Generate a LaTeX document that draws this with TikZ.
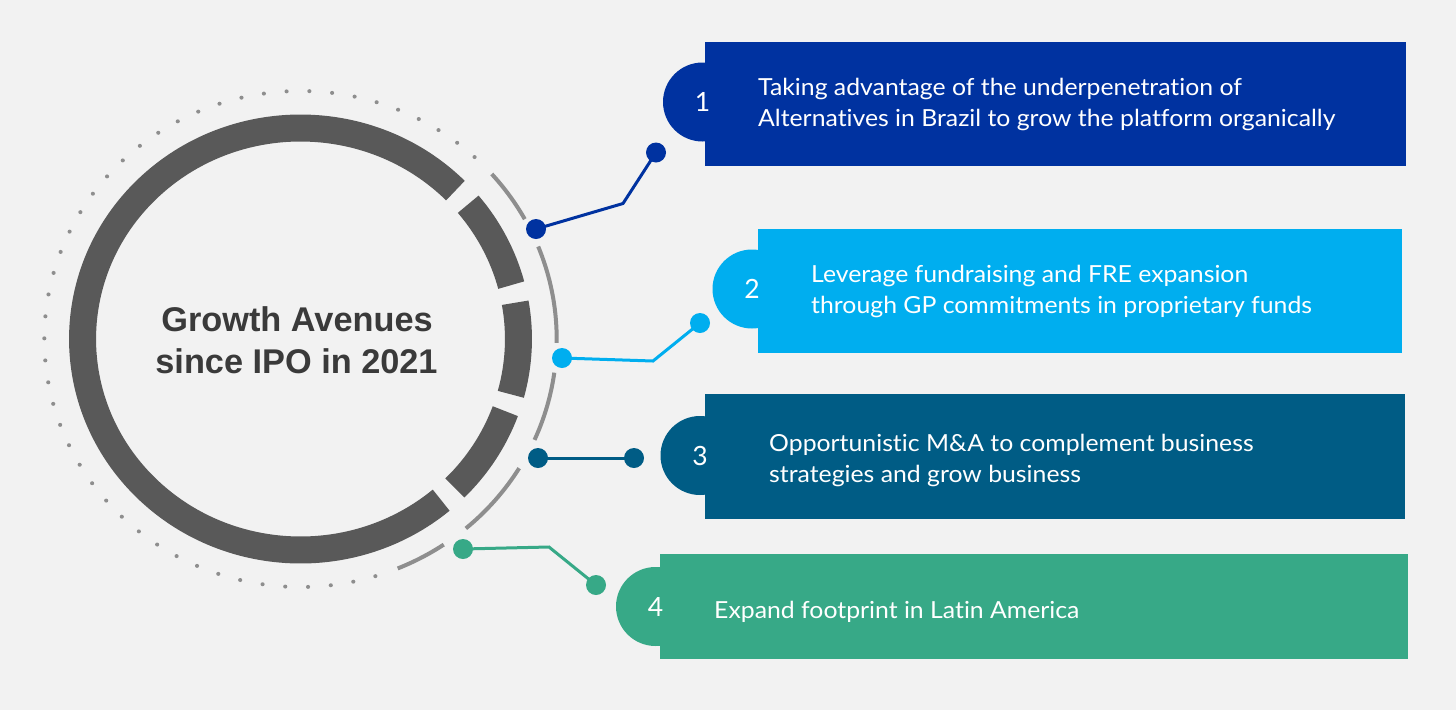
\documentclass[tikz,border=0pt]{standalone}
\usepackage{fontspec}
\setmainfont{Lato}[FakeStretch=1.055, Ligatures=NoCommon]
\newfontfamily\titlefont{Liberation Sans}
\newfontfamily\numfont{Lato}
\definecolor{bg}{HTML}{F2F2F2}
\definecolor{cone}{HTML}{0032A0}
\definecolor{ctwo}{HTML}{00AEEF}
\definecolor{cthree}{HTML}{005C85}
\definecolor{cfour}{HTML}{37A987}
\definecolor{ringc}{HTML}{595959}
\definecolor{thinc}{HTML}{8E8E8E}
\definecolor{titlec}{HTML}{3A3A3A}
\begin{document}
\begin{tikzpicture}[x=1pt,y=-1pt,
  boxrect/.style={rectangle, inner sep=0pt, outer sep=0pt, draw=none},
  numcirc/.style={circle, inner sep=0pt, outer sep=0pt, minimum size=79pt},
  numtext/.style={text=white, inner sep=0pt, font=\numfont\fontsize{26.5}{26.5}\selectfont},
  bodytext/.style={anchor=base west, text=white, inner sep=0pt, font=\fontsize{23.5}{28}\selectfont},
  titletext/.style={anchor=base, text=titlec, inner sep=0pt, font=\titlefont\bfseries\fontsize{34.3}{40}\selectfont},
  cdot/.style={circle, inner sep=0pt, outer sep=0pt, minimum size=20pt},
  conn/.style={line width=3pt},
  ringseg/.style={draw=ringc, line width=27pt},
  thinseg/.style={draw=thinc, line width=4pt}]
\useasboundingbox (0,0) rectangle (1456,710);
\fill[bg] (0,0) rectangle (1456,710);

% ring
\begin{scope}[shift={(300.5,339)}, yscale=-1, xscale=1.033]
  \draw[ringseg] (44.7:211) arc[start angle=44.7, end angle=310.2, radius=211];
  \draw[ringseg] (14.8:211) arc[start angle=14.8, end angle=39.7, radius=211];
  \draw[ringseg] (-15.2:211) arc[start angle=-15.2, end angle=9.9, radius=211];
  \draw[ringseg] (-44.9:211) arc[start angle=-44.9, end angle=-20, radius=211];
  \draw[thinseg] (28.9:248) arc[start angle=28.9, end angle=41.7, radius=248];
  \draw[thinseg] (-0.9:248) arc[start angle=-0.9, end angle=21.9, radius=248];
  \draw[thinseg] (-24:248) arc[start angle=-24, end angle=-7.8, radius=248];
  \draw[thinseg] (-49.8:248) arc[start angle=-49.8, end angle=-31.4, radius=248];
  \draw[thinseg] (-67.7:248) arc[start angle=-67.7, end angle=-56, radius=248];
  \foreach \i in {0,...,47}
    \fill[thinc] ({47.2+\i*5.102}:248) circle[radius=2];
\end{scope}

\node[titletext] (title1) at (297,331) {Growth Avenues};
\node[titletext] (title2) at (296.5,373.3) {since IPO in 2021};

% boxes
\node[numcirc, fill=cone] (n1) at (702.5,102) {};
\node[boxrect, fill=cone, minimum width=701pt, minimum height=124pt] (r1) at (1055,104) {};
\node[numcirc, fill=ctwo] (n2) at (752,289) {};
\node[boxrect, fill=ctwo, minimum width=644pt, minimum height=124pt] (r2) at (1080,290.5) {};
\node[numcirc, fill=cthree] (n3) at (700,455.5) {};
\node[boxrect, fill=cthree, minimum width=700pt, minimum height=125pt] (r3) at (1055,456.5) {};
\node[numcirc, fill=cfour] (n4) at (655.5,606.5) {};
\node[boxrect, fill=cfour, minimum width=748pt, minimum height=105pt] (r4) at (1034,606) {};

% numbers
\node[numtext] (m1) at (n1.center) {1};
\node[numtext] (m2) at (n2.center) {2};
\node[numtext] (m3) at (n3.center) {3};
\node[numtext] (m4) at (n4.center) {4};

% texts
\node[bodytext] (t1a) at (758,95.5) {Taking advantage of the underpenetration of};
\node[bodytext] (t1b) at (758,126.5) {Alternatives in Brazil to grow the platform organically};
\node[bodytext] (t2a) at (811,282) {Leverage fundraising and FRE expansion};
\node[bodytext] (t2b) at (811,313) {through GP commitments in proprietary funds};
\node[bodytext] (t3a) at (769,451.5) {Opportunistic M\&A to complement business};
\node[bodytext] (t3b) at (769,482) {strategies and grow business};
\node[bodytext] (t4a) at (714,618) {Expand footprint in Latin America};

% connectors
\coordinate (k1) at (623,203.5);
\coordinate (k2) at (653,361);
\coordinate (k4) at (549,547);
\node[cdot, fill=cone] (d1a) at (536,229) {};
\node[cdot, fill=cone] (d1b) at (656,152.5) {};
\draw[conn, cone] (d1a.center) -- (k1) -- (d1b.center);
\node[cdot, fill=ctwo] (d2a) at (562,358) {};
\node[cdot, fill=ctwo] (d2b) at (700,323) {};
\draw[conn, ctwo] (d2a.center) -- (k2) -- (d2b.center);
\node[cdot, fill=cthree] (d3a) at (538,458) {};
\node[cdot, fill=cthree] (d3b) at (634,458) {};
\draw[conn, cthree] (d3a.center) -- (d3b.center);
\node[cdot, fill=cfour] (d4a) at (463,549) {};
\node[cdot, fill=cfour] (d4b) at (596,585) {};
\draw[conn, cfour] (d4a.center) -- (k4) -- (d4b.center);
\end{tikzpicture}
\end{document}
